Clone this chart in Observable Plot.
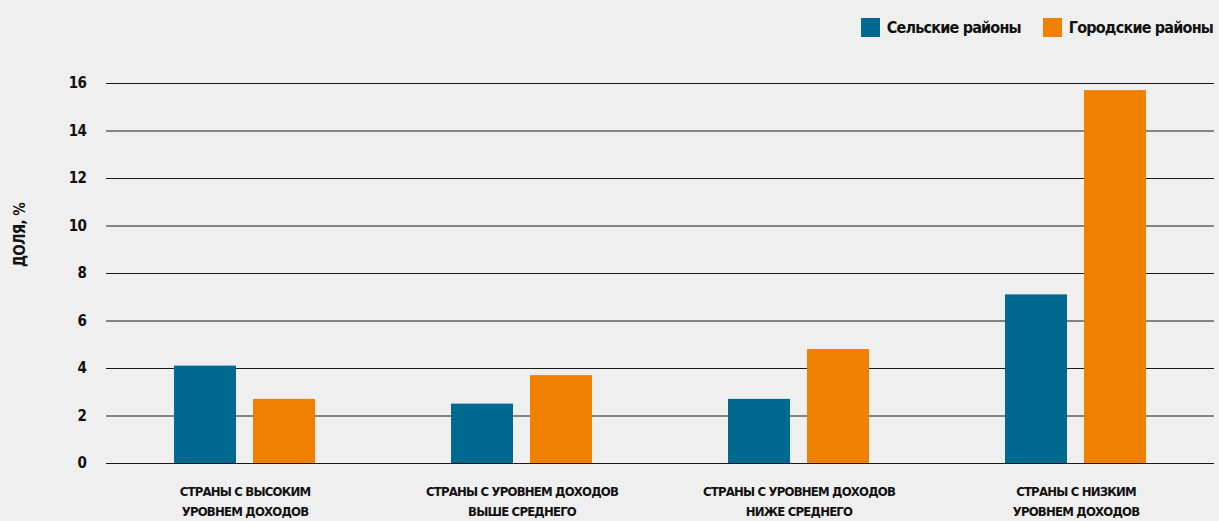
<!DOCTYPE html>
<html><head><meta charset="utf-8">
<script src="https://cdn.jsdelivr.net/npm/d3@7"></script>
<script src="https://cdn.jsdelivr.net/npm/@observablehq/plot@0.6"></script>
<style>
body{margin:0;background:#efefef;}
#wrap{position:relative;width:1219px;height:521px;font-family:"DejaVu Sans Condensed",sans-serif;font-weight:bold;color:#111;}
#legend{position:absolute;top:18px;right:6px;display:flex;align-items:center;font-size:16px;letter-spacing:-0.8px;line-height:19px;}
#legend .it{display:flex;align-items:center;margin-left:22px;}
#legend .sw{width:19px;height:19px;margin-right:7px;}
#ylab{position:absolute;left:20px;top:235px;transform:translate(-50%,-50%) rotate(-90deg);font-size:15px;letter-spacing:-0.6px;white-space:nowrap;}
#chart{position:absolute;left:0;top:55px;}
#chart svg g[aria-label="fx-axis tick label"] text{letter-spacing:-0.8px;}
#chart svg g[aria-label="y-axis tick label"] text{letter-spacing:-0.5px;}
</style></head>
<body><div id="wrap"><div id="legend"></div><div id="ylab">ДОЛЯ, %</div><div id="chart"></div></div>
<script>
const categories = ["СТРАНЫ С ВЫСОКИМ\nУРОВНЕМ ДОХОДОВ", "СТРАНЫ С УРОВНЕМ ДОХОДОВ\nВЫШЕ СРЕДНЕГО", "СТРАНЫ С УРОВНЕМ ДОХОДОВ\nНИЖЕ СРЕДНЕГО", "СТРАНЫ С НИЗКИМ\nУРОВНЕМ ДОХОДОВ"];
const series = ["Сельские районы", "Городские районы"];
const colors = ["#006990", "#f08000"];
const rural = [4.1, 2.5, 2.7, 7.1];
const urban = [2.7, 3.7, 4.8, 15.7];
const yTicks = [0, 2, 4, 6, 8, 10, 12, 14, 16];

const data = [];
categories.forEach((c, i) => {
  data.push({cat: c, series: series[0], value: rural[i]});
  data.push({cat: c, series: series[1], value: urban[i]});
});

const leg = document.getElementById("legend");
series.forEach((s, i) => {
  const it = document.createElement("div"); it.className = "it";
  const sw = document.createElement("div"); sw.className = "sw"; sw.style.background = colors[i];
  const t = document.createElement("span"); t.textContent = s;
  it.appendChild(sw); it.appendChild(t); leg.appendChild(it);
});

const font = '"DejaVu Sans Condensed",sans-serif';
const chart = Plot.plot({
  width: 1219, height: 466,
  marginLeft: 106, marginRight: 5, marginTop: 28, marginBottom: 58,
  style: {background: "transparent", fontFamily: font, fontWeight: "bold", color: "#111"},
  fx: {domain: categories, padding: 0, label: null, axis: null},
  x: {domain: series, paddingInner: 0.22, paddingOuter: 0.86, axis: null},
  y: {domain: [0, 16], axis: null},
  color: {domain: series, range: colors},
  marks: [
    Plot.ruleY(yTicks, {stroke: "#1a1a1a", strokeWidth: 1.2}),
    Plot.barY(data, {fx: "cat", x: "series", y: "value", fill: "series"}),
    Plot.axisY({ticks: yTicks, tickSize: 0, tickPadding: 20, label: null, fontSize: 15, fontWeight: "bold"}),
    Plot.axisFx({anchor: "bottom", tickSize: 0, tickPadding: 19, label: null, fontSize: 13, lineHeight: 1.5, fontWeight: "bold"})
  ]
});
document.getElementById("chart").appendChild(chart);
</script></body></html>
